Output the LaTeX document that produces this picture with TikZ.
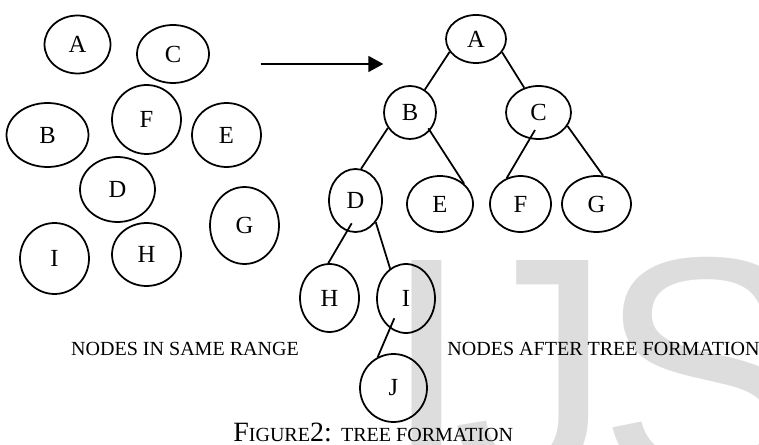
\documentclass[tikz,border=0pt]{standalone}
\usepackage{fontspec}
\setmainfont{Liberation Serif}
\newfontfamily\wmfont{Liberation Sans}
\usetikzlibrary{shapes.geometric,arrows.meta}
\definecolor{wmgray}{RGB}{221,221,221}

\begin{document}
\begin{tikzpicture}[x=0.02cm,y=-0.02cm,
	bub/.style={draw, ellipse, inner sep=0pt, line width=1pt, font=\fontsize{14}{14}\selectfont},
	lbl/.style={anchor=base, inner sep=0pt, font=\fontsize{11.4}{12}\selectfont},
	wm/.style={anchor=base west, inner sep=0pt, text=wmgray, font=\wmfont\fontsize{182}{182}\selectfont},
	edge/.style={line width=1pt}]
					\useasboundingbox (0,0) rectangle (759,445);

					% watermark in the back
					\node[wm] (wmI) at (382,480) {I};
					\node[wm] (wmJ) at (452,480) {J};
					\node[wm] (wmS) at (598,480) {S};

					% nodes in same range
					\node[bub, minimum width=1.32cm, minimum height=1.16cm] (lA) at (77.5,44.5) {A};
					\node[bub, minimum width=1.44cm, minimum height=1.16cm] (lC) at (173,54) {C};
					\node[bub, minimum width=1.64cm, minimum height=1.28cm] (lB) at (47.5,135) {B};
					\node[bub, minimum width=1.38cm, minimum height=1.38cm] (lF) at (146.5,119.5) {F};
					\node[bub, minimum width=1.38cm, minimum height=1.28cm] (lE) at (226.5,135) {E};
					\node[bub, minimum width=1.50cm, minimum height=1.30cm] (lD) at (117.5,189.5) {D};
					\node[bub, minimum width=1.38cm, minimum height=1.54cm] (lG) at (244.5,225.5) {G};
					\node[bub, minimum width=1.38cm, minimum height=1.42cm] (lI) at (54.5,258.5) {I};
					\node[bub, minimum width=1.38cm, minimum height=1.26cm] (lH) at (146.5,254.5) {H};

					\coordinate (arrS) at (260.7,64);
					\coordinate (arrE) at (383.3,64);
					\draw[line width=1pt, -{Triangle[length=0.3cm,width=0.32cm]}] (arrS) -- (arrE);

					% nodes after tree formation
					\node[bub, minimum width=1.20cm, minimum height=0.96cm] (tA) at (476,39) {A};
					\node[bub, minimum width=1.04cm, minimum height=1.06cm] (tB) at (410,112.5) {B};
					\node[bub, minimum width=1.30cm, minimum height=1.06cm] (tC) at (538.5,112.5) {C};
					\node[bub, minimum width=1.06cm, minimum height=1.26cm] (tD) at (355.5,200.5) {D};
					\node[bub, minimum width=1.32cm, minimum height=1.12cm] (tE) at (440,204) {E};
					\node[bub, minimum width=1.22cm, minimum height=1.12cm] (tF) at (520.5,204) {F};
					\node[bub, minimum width=1.38cm, minimum height=1.12cm] (tG) at (596.5,204) {G};
					\node[bub, minimum width=1.18cm, minimum height=1.36cm] (tH) at (329.5,298) {H};
					\node[bub, minimum width=1.16cm, minimum height=1.38cm] (tI) at (406,298.5) {I};
					\node[bub, minimum width=1.34cm, minimum height=1.36cm] (tJ) at (393.5,388) {J};

					\draw[edge] (tA.206) -- (tB.57);
					\draw[edge] (tA.333) -- (tC.120);
					\draw[edge] (tB.215) -- (tD.80);
					\draw[edge] ([shift={(18.3,15.8)}]tB.center) -- (tE.40);
					\draw[edge] ([shift={(-3.5,17.5)}]tC.center) -- (tF.118);
					\draw[edge] (tC.335) -- (tG.77);
					\draw[edge] ([shift={(-3.8,22.8)}]tD.center) -- (tH.92);
					\draw[edge] (tD.313) -- (tI.118);
					\draw[edge] ([shift={(-11.7,19.8)}]tI.center) -- (tJ.117);

					\node[lbl] (lrange) at (185,355) {NODES IN SAME RANGE};
					\node[lbl] (ltree) at (603.5,355) {NODES AFTER TREE FORMATION};

					\node[anchor=base west, inner sep=0pt] (cap) at (233,441.7) {\fontsize{15.9}{16}\selectfont F\fontsize{11.4}{12}\selectfont IGURE\fontsize{15.9}{16}\selectfont 2: \fontsize{11.4}{12}\selectfont TREE FORMATION};
				\end{tikzpicture}
\end{document}
